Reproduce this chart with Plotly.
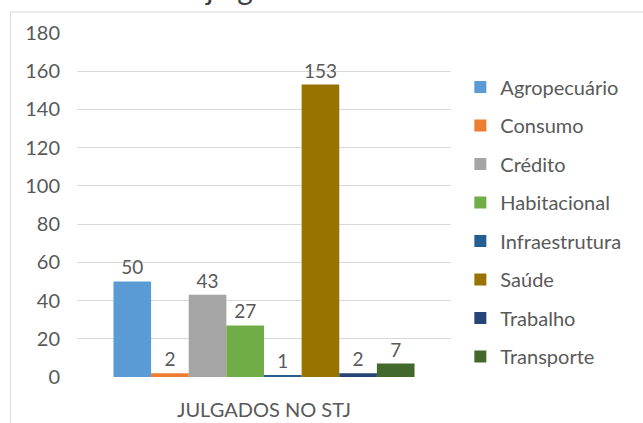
import plotly.graph_objects as go

categories = ["JULGADOS NO STJ"]
series_names = ["Agropecuário", "Consumo", "Crédito", "Habitacional",
                "Infraestrutura", "Saúde", "Trabalho", "Transporte"]
series_values = [50, 2, 43, 27, 1, 153, 2, 7]
series_colors = ["#5B9BD5", "#ED7D31", "#A5A5A5", "#70AD47",
                 "#255E91", "#997300", "#264478", "#43682B"]
y_ticks = [0, 20, 40, 60, 80, 100, 120, 140, 160, 180]
title_text = "Recursos julgados:"

FONT = "Lato, 'Open Sans', sans-serif"
GRAY = "#595959"

fig = go.Figure()
for i, (name, val, col) in enumerate(zip(series_names, series_values, series_colors)):
    fig.add_trace(go.Bar(
        x=categories, y=[val], name=name,
        marker=dict(color=col, line=dict(width=0)),
        text=[str(val)], textposition="outside", cliponaxis=False,
        textfont=dict(family=FONT, size=19, color=GRAY),
        legendgroup=f"g{i}",
    ))

fig.update_layout(
    width=643, height=423,
    margin=dict(l=77, r=192, t=33, b=46, autoexpand=False),
    paper_bgcolor="white", plot_bgcolor="white",
    barmode="group", bargap=0.195, bargroupgap=0,
    font=dict(family=FONT, color=GRAY),
    showlegend=True,
    legend=dict(x=1.025, y=0.9, xanchor="left", yanchor="top",
                font=dict(family=FONT, size=20, color=GRAY),
                traceorder="grouped", tracegroupgap=9.5,
                itemwidth=30, bgcolor="rgba(0,0,0,0)"),
    xaxis=dict(showgrid=False, showline=False, zeroline=False, ticks="",
               tickfont=dict(family=FONT, size=20, color=GRAY),
               ticklabelstandoff=19),
    yaxis=dict(range=[0, 180], tickvals=y_ticks, showgrid=True,
               gridcolor="#D9D9D9", gridwidth=1, zeroline=False,
               showline=False, ticks="",
               tickfont=dict(family=FONT, size=20, color=GRAY),
               ticklabelstandoff=16),
    shapes=[dict(type="rect", xref="paper", yref="paper",
                 x0=-0.178, x1=1.6, y0=-0.2, y1=1.061,
                 line=dict(color="#D9D9D9", width=1), fillcolor="rgba(0,0,0,0)",
                 layer="below")],
    annotations=[dict(text=title_text, xref="paper", yref="paper",
                      x=0.0015, y=1.0715, xanchor="left", yanchor="bottom",
                      showarrow=False,
                      font=dict(family=FONT, size=30, color="#404040"))],
)

fig.write_html("out.html")
